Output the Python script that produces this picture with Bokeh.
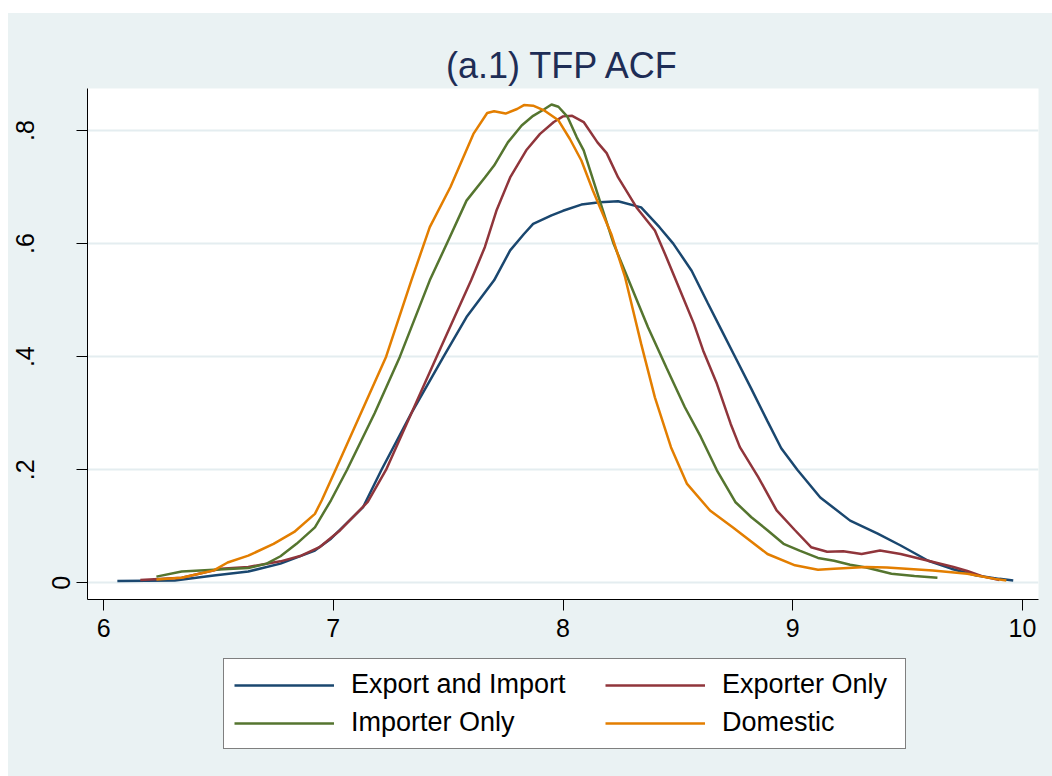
from bokeh.plotting import figure
from bokeh.models import Range1d, FixedTicker, Legend, LegendItem, Spacer, LinearAxis
from bokeh.layouts import column, row
from bokeh.embed import file_html
from bokeh.resources import INLINE

# ---------------- data ----------------
series_names = ["Export and Import", "Exporter Only", "Importer Only", "Domestic"]
series_colors = ["#1A476F", "#90353B", "#55752F", "#E37E00"]

x_export_import = [6.06, 6.31, 6.48, 6.63, 6.77, 6.92, 6.99, 7.13, 7.21, 7.34, 7.48, 7.58,
                   7.70, 7.77, 7.83, 7.87, 7.95, 8.00, 8.08, 8.16, 8.24, 8.34, 8.42, 8.48,
                   8.56, 8.63, 8.69, 8.75, 8.82, 8.89, 8.95, 9.02, 9.12, 9.25, 9.37, 9.47,
                   9.59, 9.69, 9.80, 9.90, 9.96]
y_export_import = [0.003, 0.004, 0.013, 0.020, 0.034, 0.057, 0.078, 0.134, 0.200, 0.300, 0.400, 0.470,
                   0.535, 0.588, 0.617, 0.635, 0.650, 0.658, 0.669, 0.673, 0.675, 0.664, 0.629, 0.600,
                   0.552, 0.495, 0.447, 0.399, 0.343, 0.286, 0.238, 0.200, 0.151, 0.110, 0.087, 0.066,
                   0.039, 0.025, 0.013, 0.007, 0.004]

x_exporter = [6.16, 6.34, 6.51, 6.63, 6.77, 6.86, 6.94, 7.03, 7.15, 7.23, 7.34, 7.45,
              7.60, 7.66, 7.71, 7.77, 7.84, 7.90, 7.96, 8.00, 8.04, 8.09, 8.15, 8.19,
              8.24, 8.32, 8.40, 8.45, 8.51, 8.57, 8.61, 8.67, 8.73, 8.77, 8.85, 8.93,
              9.01, 9.08, 9.15, 9.22, 9.30, 9.38, 9.47, 9.59, 9.70, 9.76, 9.83, 9.90]
y_exporter = [0.005, 0.009, 0.025, 0.028, 0.038, 0.048, 0.063, 0.093, 0.143, 0.200, 0.300, 0.400,
              0.535, 0.594, 0.658, 0.717, 0.765, 0.794, 0.815, 0.825, 0.826, 0.815, 0.779, 0.760,
              0.717, 0.664, 0.623, 0.576, 0.517, 0.458, 0.411, 0.352, 0.281, 0.240, 0.187, 0.128,
              0.093, 0.063, 0.055, 0.056, 0.051, 0.057, 0.051, 0.039, 0.028, 0.021, 0.011, 0.005]

x_importer = [6.23, 6.34, 6.48, 6.63, 6.71, 6.77, 6.84, 6.92, 6.99, 7.06, 7.18, 7.29,
              7.42, 7.50, 7.58, 7.66, 7.70, 7.76, 7.82, 7.87, 7.92, 7.95, 7.98, 8.02,
              8.06, 8.09, 8.16, 8.22, 8.28, 8.37, 8.45, 8.53, 8.60, 8.67, 8.75, 8.82,
              8.89, 8.96, 9.03, 9.11, 9.18, 9.25, 9.32, 9.43, 9.53, 9.63]
y_importer = [0.011, 0.020, 0.023, 0.026, 0.034, 0.047, 0.069, 0.098, 0.146, 0.200, 0.300, 0.400,
              0.535, 0.605, 0.676, 0.717, 0.738, 0.779, 0.809, 0.826, 0.838, 0.846, 0.842, 0.824,
              0.788, 0.765, 0.676, 0.600, 0.541, 0.452, 0.381, 0.311, 0.258, 0.199, 0.143, 0.116,
              0.093, 0.069, 0.057, 0.044, 0.039, 0.032, 0.027, 0.016, 0.012, 0.009]

x_domestic = [6.23, 6.34, 6.48, 6.54, 6.63, 6.74, 6.83, 6.92, 6.95, 7.01, 7.12, 7.23,
              7.34, 7.42, 7.51, 7.61, 7.67, 7.70, 7.75, 7.80, 7.83, 7.87, 7.92, 7.98,
              8.03, 8.08, 8.13, 8.21, 8.27, 8.34, 8.40, 8.47, 8.54, 8.64, 8.74, 8.89,
              9.01, 9.11, 9.18, 9.32, 9.41, 9.61, 9.76, 9.88, 9.93]
y_domestic = [0.006, 0.009, 0.022, 0.036, 0.048, 0.069, 0.090, 0.122, 0.146, 0.200, 0.300, 0.400,
              0.535, 0.629, 0.700, 0.794, 0.831, 0.834, 0.830, 0.838, 0.845, 0.844, 0.835, 0.818,
              0.785, 0.747, 0.694, 0.617, 0.541, 0.423, 0.328, 0.240, 0.175, 0.128, 0.098, 0.051,
              0.031, 0.023, 0.025, 0.028, 0.027, 0.022, 0.016, 0.007, 0.004]

x_ticks = [6, 7, 8, 9, 10]
x_tick_labels = ["6", "7", "8", "9", "10"]
y_ticks = [0, 0.2, 0.4, 0.6, 0.8]
y_tick_labels = ["0", ".2", ".4", ".6", ".8"]
title_text = "(a.1) TFP ACF"

# ---------------- styling ----------------
BG = "#EAF2F3"
FONT = "Liberation Sans"

p = figure(width=1044, height=640, output_backend="svg", toolbar_location=None,
           x_range=Range1d(5.930, 10.070), y_range=Range1d(-0.0295, 0.8743),
           min_border_left=79, min_border_right=14, min_border_top=75, min_border_bottom=54)

p.background_fill_color = "white"
p.border_fill_color = BG
p.outline_line_color = None

p.title.text = title_text
p.title.align = "center"
p.title.text_font = FONT
p.title.text_font_size = "36px"
p.title.text_font_style = "normal"
p.title.text_color = "#1E2D55"
p.title.standoff = 6

xs = [x_export_import, x_exporter, x_importer, x_domestic]
ys = [y_export_import, y_exporter, y_importer, y_domestic]
for xv, yv, c in zip(xs, ys, series_colors):
    p.line(xv, yv, line_color=c, line_width=2.5)

# axes: the inner y axis carries line, ticks and the "0" label;
# an outer, line-less axis carries the other labels (sitting further left, as in the reference)
inner_labels = {t: (l if t == 0 else "") for t, l in zip(y_ticks, y_tick_labels)}
outer_labels = {t: ("" if t == 0 else l) for t, l in zip(y_ticks, y_tick_labels)}

p.xaxis.ticker = FixedTicker(ticks=x_ticks)
p.xaxis.major_label_overrides = dict(zip(x_ticks, x_tick_labels))
p.yaxis.ticker = FixedTicker(ticks=y_ticks)
p.yaxis.major_label_overrides = inner_labels
p.yaxis.major_label_orientation = "vertical"
for ax in (p.xaxis, p.yaxis):
    ax.axis_line_color = "black"
    ax.axis_line_width = 1
    ax.major_tick_line_color = "black"
    ax.major_tick_out = 11
    ax.major_tick_in = 0
    ax.minor_tick_line_color = None
    ax.major_label_text_font = FONT
    ax.major_label_text_font_size = "25px"
    ax.major_label_text_color = "black"
p.xaxis.major_label_standoff = 8
p.yaxis.major_label_standoff = 6

outer = LinearAxis(ticker=FixedTicker(ticks=y_ticks), major_label_overrides=outer_labels,
                   axis_line_color=None, major_tick_line_color=None, minor_tick_line_color=None,
                   major_tick_out=0, major_tick_in=0, major_label_standoff=15,
                   major_label_orientation="vertical", major_label_text_font=FONT,
                   major_label_text_font_size="25px", major_label_text_color="black")
p.add_layout(outer, "left")

p.xgrid.grid_line_color = None
p.ygrid.grid_line_color = "#E4EDF0"
p.ygrid.grid_line_width = 2
p.ygrid.ticker = FixedTicker(ticks=y_ticks)

# ---------------- legend strip (below the plot) ----------------
lg = figure(width=1044, height=123, output_backend="svg", toolbar_location=None,
            x_range=Range1d(0, 1), y_range=Range1d(0, 1),
            x_axis_type=None, y_axis_type=None,
            min_border_left=0, min_border_right=0, min_border_top=0, min_border_bottom=0)
lg.background_fill_color = None
lg.border_fill_color = BG
lg.outline_line_color = None
lg.xgrid.visible = False
lg.ygrid.visible = False

# legend keys: same series, drawn outside this strip's visible range
keys = [lg.line(xv, yv, line_color=c, line_width=2.5)
        for xv, yv, c in zip(xs, ys, series_colors)]

common = dict(label_text_font=FONT, label_text_font_size="27px", label_text_color="black",
              glyph_width=100, glyph_height=30, label_height=30, label_standoff=17,
              padding=10, spacing=7, margin=0)
leg_a = Legend(items=[LegendItem(label=series_names[0], renderers=[keys[0]]),
                      LegendItem(label=series_names[2], renderers=[keys[2]])],
               location=(136, 27), label_width=544,
               border_line_color="black", border_line_width=1,
               background_fill_color="white", background_fill_alpha=1, **common)
leg_b = Legend(items=[LegendItem(label=series_names[1], renderers=[keys[1]]),
                      LegendItem(label=series_names[3], renderers=[keys[3]])],
               location=(518, 38),
               border_line_color=None, background_fill_color=None, **common)
lg.add_layout(leg_a)
lg.add_layout(leg_b)

layout = column(Spacer(width=1052, height=13),
                row(Spacer(width=8, height=763),
                    column(p, lg, styles={"background-color": BG})))

open("out.html", "w").write(file_html(layout, INLINE))
